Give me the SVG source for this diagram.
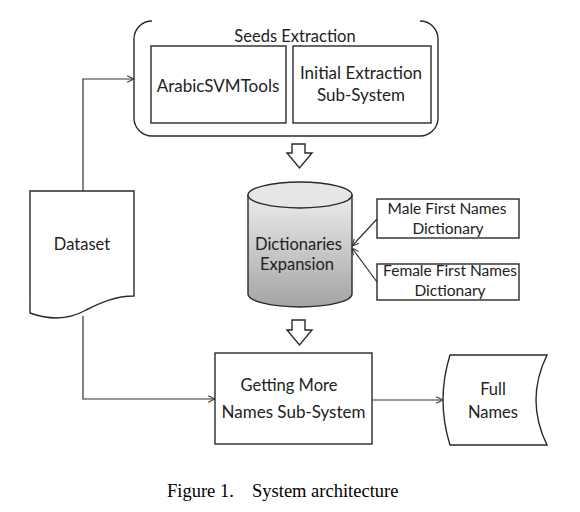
<svg xmlns="http://www.w3.org/2000/svg" width="580" height="512" viewBox="0 0 580 512">
<style>
.s{fill:none;stroke:#2a2a2a;stroke-width:1.4}
.b{fill:#fff;stroke:#2a2a2a;stroke-width:1.4}
.t{font-family:Lato,"Liberation Sans",sans-serif;fill:#222;text-anchor:middle}
.c{stroke:#333;stroke-width:1.2;fill:none}
.cap{font-family:"Liberation Serif","Times New Roman",serif;font-size:18.5px;fill:#000}
</style>
<defs>
<marker id="ah" viewBox="0 0 10 10" refX="9.5" refY="5" markerWidth="8" markerHeight="8" markerUnits="userSpaceOnUse" orient="auto">
<path d="M1,1 L9.5,5 L1,9" fill="none" stroke="#333" stroke-width="1.3"/>
</marker>
<linearGradient id="cyl" x1="0" y1="0" x2="0" y2="1">
<stop offset="0" stop-color="#ececec"/>
<stop offset="1" stop-color="#a4a4a4"/>
</linearGradient>
</defs>
<rect width="580" height="512" fill="#fff"/>

<g id="seeds-extraction">
<path class="s" d="M152,21 A18,18 0 0 0 134,39 L134,118 A18,18 0 0 0 152,136 L420,136 A18,18 0 0 0 438,118 L438,39 A18,18 0 0 0 420,21"/>
<text class="t" x="295" y="42" font-size="16.5">Seeds Extraction</text>
</g>
<g id="arabicsvmtools">
<rect class="b" x="151" y="46" width="135" height="77"/>
<text class="t" x="218" y="92" font-size="17">ArabicSVMTools</text>
</g>
<g id="initial-extraction">
<rect class="b" x="293" y="46" width="138" height="77"/>
<text class="t" x="361" y="79" font-size="17">Initial Extraction</text>
<text class="t" x="361" y="101" font-size="17">Sub-System</text>
</g>

<g id="hollow-arrow-1">
<path class="b" d="M292,144 L305,144 L305,153 L312,153 L299.5,168 L287,153 L292,153 Z"/>
</g>

<g id="dictionaries-expansion">
<path d="M248,195 L248,294 A52,13 0 0 0 352,294 L352,195 Z" fill="url(#cyl)" stroke="#2a2a2a" stroke-width="1.4"/>
<ellipse cx="300" cy="195" rx="52" ry="13" fill="#e6e6e6" stroke="#2a2a2a" stroke-width="1.4"/>
<text class="t" x="298.5" y="250" font-size="16.5">Dictionaries</text>
<text class="t" x="297" y="270" font-size="16.5">Expansion</text>
</g>

<g id="male-first-names">
<rect class="b" x="377" y="199" width="142" height="39"/>
<text class="t" x="447" y="214" font-size="15.5">Male First Names</text>
<text class="t" x="448" y="234" font-size="15.5">Dictionary</text>
</g>
<g id="female-first-names">
<rect class="b" x="377" y="264" width="142" height="36"/>
<text class="t" x="450" y="276" font-size="15.5">Female First Names</text>
<text class="t" x="450" y="296" font-size="15.5">Dictionary</text>
</g>

<g id="dataset">
<path class="b" d="M30,191 L134,191 L134,296 C115,296 100,303 86,310 C72,318 55,322 30,313 Z"/>
<text class="t" x="82" y="250" font-size="16.5">Dataset</text>
</g>

<g id="hollow-arrow-2">
<path class="b" d="M292,320 L305,320 L305,330 L312,330 L299.5,345 L287,330 L292,330 Z"/>
</g>

<g id="getting-more-names">
<rect class="b" x="215" y="353" width="157" height="91"/>
<text class="t" x="289" y="391" font-size="16.5">Getting More</text>
<text class="t" x="293.5" y="418" font-size="17">Names Sub-System</text>
</g>

<g id="full-names">
<path class="b" d="M450,355 L547,355 Q525,400 547,445 L450,445 Q436,400 450,355 Z"/>
<text class="t" x="493" y="395" font-size="16.5">Full</text>
<text class="t" x="493" y="418" font-size="16.5">Names</text>
</g>

<g id="connectors">
<path class="c" d="M83,191 L83,79 L134,79" marker-end="url(#ah)"/>
<path class="c" d="M83,316 L83,399 L215,399" marker-end="url(#ah)"/>
<path class="c" d="M372,400 L443,400" marker-end="url(#ah)"/>
<path class="c" d="M377,219 L352,246" marker-end="url(#ah)"/>
<path class="c" d="M377,282 L352,248" marker-end="url(#ah)"/>
</g>

<g id="caption">
<text class="cap" x="167" y="497">Figure 1.</text>
<text class="cap" x="252" y="497">System architecture</text>
</g>
</svg>
